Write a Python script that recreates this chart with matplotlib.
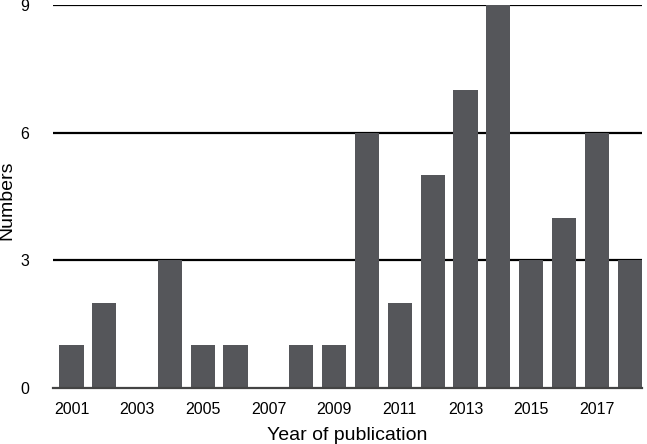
import matplotlib
matplotlib.use("Agg")
import matplotlib.pyplot as plt

years = list(range(2001, 2019))
counts = [1, 2, 0, 3, 1, 1, 0, 1, 1, 6, 2, 5, 7, 9, 3, 4, 6, 3]
tick_years = [2001, 2003, 2005, 2007, 2009, 2011, 2013, 2015, 2017]
y_ticks = [0, 3, 6, 9]

plt.rcParams['font.family'] = ['Liberation Sans', 'DejaVu Sans']

fig = plt.figure(figsize=(6.47, 4.44), dpi=100)
ax = fig.add_axes([0.082, 0.126, 0.910, 0.863])

x = list(range(len(years)))
ax.bar(x, counts, width=0.74, color='#55565a', zorder=3)

for v in y_ticks[1:]:
    ax.axhline(v, color='black', lw=1.6, zorder=1)

ax.set_xlim(-0.56, 17.37)
ax.set_ylim(0, 9)
ax.set_yticks(y_ticks)
ax.set_yticklabels([str(v) for v in y_ticks], fontsize=11.5)
ax.set_xticks([years.index(y) for y in tick_years])
ax.set_xticklabels([str(y) for y in tick_years], fontsize=11.5)
ax.tick_params(axis='x', length=0, pad=10)
ax.tick_params(axis='y', length=0, pad=17)

for s in ['top', 'right', 'left']:
    ax.spines[s].set_visible(False)
ax.spines['bottom'].set_color('#444444')
ax.spines['bottom'].set_linewidth(1.6)
ax.spines['bottom'].set_zorder(4)

ax.set_xlabel('Year of publication', fontsize=14, labelpad=7)
ax.set_ylabel('Numbers', fontsize=14, va='center', ha='center')
ax.yaxis.set_label_coords(-0.078, 0.49)

fig.savefig('out.png', dpi=100)
